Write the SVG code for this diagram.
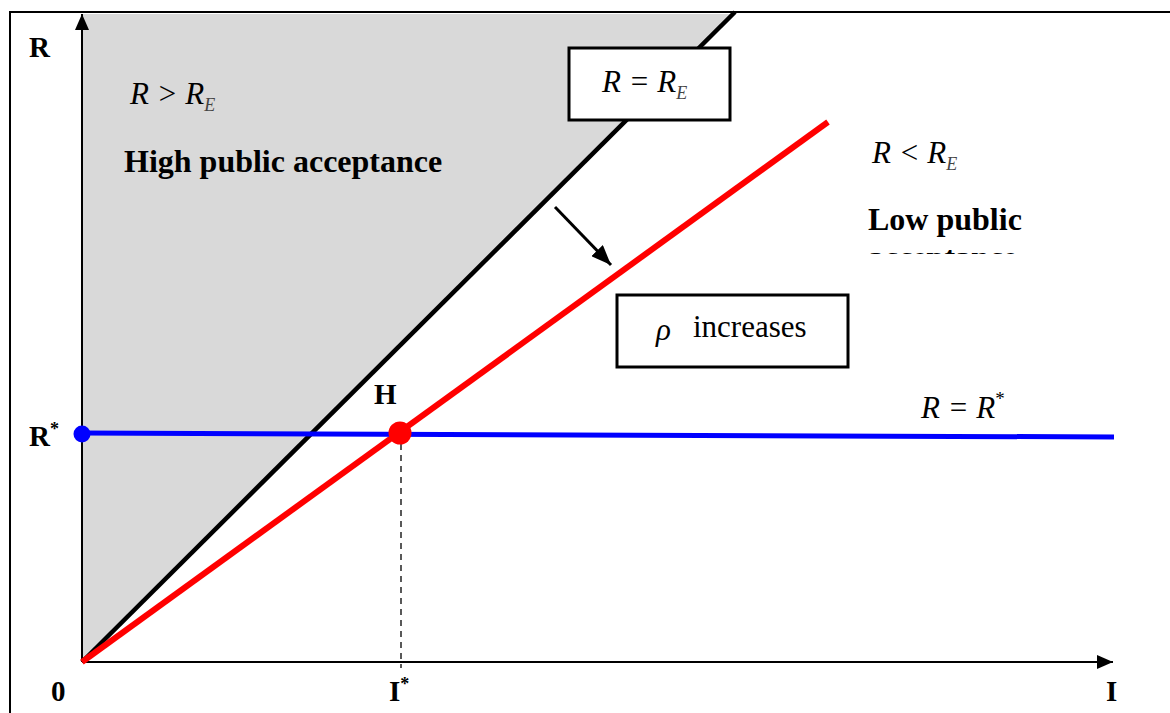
<svg xmlns="http://www.w3.org/2000/svg" width="1170" height="713" viewBox="0 0 1170 713">
<style>
.b{font-family:"Liberation Serif","Times New Roman","DejaVu Serif",serif;font-weight:bold;fill:#000}
.m{font-family:"Liberation Serif","Times New Roman","DejaVu Serif",serif;font-style:italic;fill:#000}
.n{font-family:"Liberation Serif","Times New Roman","DejaVu Serif",serif;font-style:normal;font-weight:normal;fill:#000}
.box{fill:#fff;stroke:#000;stroke-width:3}
</style>
<defs>
<marker id="ax" viewBox="0 0 16 14" markerWidth="16" markerHeight="14" refX="16" refY="7" orient="auto" markerUnits="userSpaceOnUse"><path d="M0,0 L16,7 L0,14 Z" fill="#000"/></marker>
<marker id="ar" viewBox="0 0 20 16" markerWidth="20" markerHeight="16" refX="20" refY="8" orient="auto" markerUnits="userSpaceOnUse"><path d="M0,0 L20,8 L0,16 Z" fill="#000"/></marker>
<clipPath id="cl"><rect x="840" y="0" width="300" height="254"/></clipPath>
</defs>
<rect x="0" y="0" width="1170" height="713" fill="#fff"/>
<g id="frame"><path d="M10,713 V12 H1170" fill="none" stroke="#000" stroke-width="2"/></g>
<g id="region-high"><polygon points="82,662 82,14 733,14" fill="#d9d9d9"/></g>
<g id="connectors">
<line id="y-axis" x1="82" y1="662" x2="82" y2="14" stroke="#000" stroke-width="2" marker-end="url(#ax)"/>
<line id="x-axis" x1="82" y1="662" x2="1113" y2="662" stroke="#000" stroke-width="2" marker-end="url(#ax)"/>
<line id="line-RE" x1="82" y1="662" x2="735" y2="12" stroke="#000" stroke-width="4.5"/>
<line id="line-red" x1="82" y1="662" x2="828" y2="122" stroke="#f00" stroke-width="6"/>
<line id="line-Rstar" x1="82" y1="433" x2="1114" y2="437" stroke="#00f" stroke-width="5"/>
<line id="dash" x1="401" y1="433" x2="401" y2="668" stroke="#000" stroke-width="1.3" stroke-dasharray="6,5"/>
<line id="shift-arrow" x1="555" y1="207" x2="611" y2="265" stroke="#000" stroke-width="3" marker-end="url(#ar)"/>
</g>
<g id="node-Rstar-dot"><circle cx="82" cy="434" r="8.5" fill="#00f"/></g>
<g id="node-H"><circle cx="400" cy="433" r="11.5" fill="#f00"/><text class="b" x="374" y="404" font-size="29">H</text></g>
<g id="node-box-RE"><rect class="box" x="569" y="48" width="161" height="72"/>
<text class="m" x="602" y="92" font-size="31">R = R<tspan font-size="18" dy="7" fill="#444">E</tspan></text></g>
<g id="node-box-rho"><rect class="box" x="617" y="295" width="231" height="72"/>
<text class="m" x="656" y="340" font-size="31">ρ</text><text class="n" x="693" y="337" font-size="31">increases</text></g>
<g id="labels">
<text class="b" x="29" y="57" font-size="29">R</text>
<text class="m" x="130" y="104" font-size="31">R &gt; R<tspan font-size="18" dy="7" fill="#444">E</tspan></text>
<text class="b" x="124" y="172" font-size="32">High public acceptance</text>
<text class="m" x="872" y="163" font-size="31">R &lt; R<tspan font-size="18" dy="7" fill="#444">E</tspan></text>
<text class="b" x="868" y="230" font-size="32">Low public</text>
<text class="b" x="868" y="268" font-size="32" clip-path="url(#cl)">acceptance</text>
<text class="m" x="921" y="418" font-size="31">R = R<tspan font-size="19" dy="-13" font-style="normal">*</tspan></text>
<text class="b" x="29" y="446" font-size="29">R<tspan font-size="18" dy="-11">*</tspan></text>
<text class="b" x="51" y="701" font-size="29">0</text>
<text class="b" x="389" y="701" font-size="29">I<tspan font-size="18" dy="-11">*</tspan></text>
<text class="b" x="1106" y="701" font-size="29">I</text>
</g>
</svg>
